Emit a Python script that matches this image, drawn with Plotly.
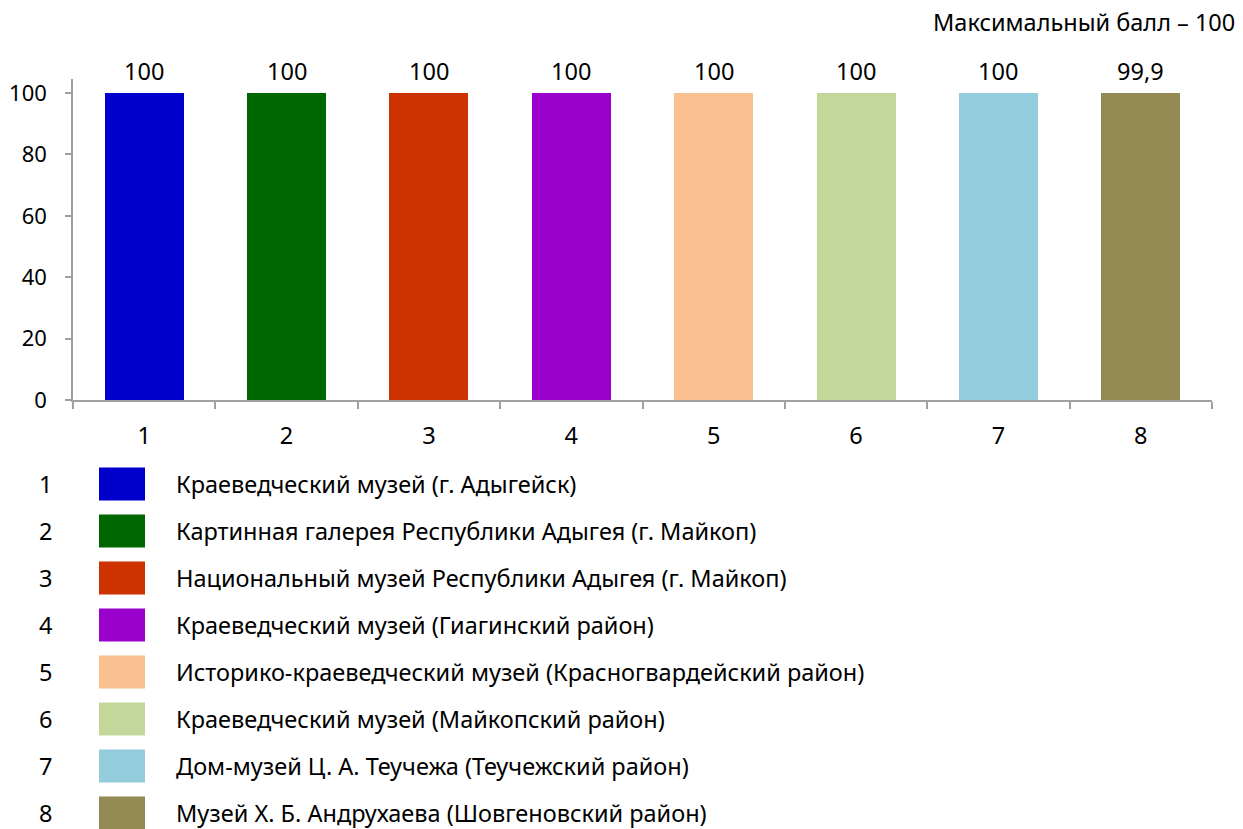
import plotly.graph_objects as go

categories = [1, 2, 3, 4, 5, 6, 7, 8]
values = [100, 100, 100, 100, 100, 100, 100, 99.9]
colors = ["#0000CC", "#006600", "#CC3300", "#9900CC", "#FAC090", "#C4D79B", "#93CDDD", "#948A54"]
names = [
    "Краеведческий музей (г. Адыгейск)",
    "Картинная галерея Республики Адыгея (г. Майкоп)",
    "Национальный музей Республики Адыгея (г. Майкоп)",
    "Краеведческий музей (Гиагинский район)",
    "Историко-краеведческий музей (Красногвардейский район)",
    "Краеведческий музей (Майкопский район)",
    "Дом-музей Ц. А. Теучежа (Теучежский район)",
    "Музей Х. Б. Андрухаева (Шовгеновский район)",
]
y_ticks = [0, 20, 40, 60, 80, 100]
note = "Максимальный балл – 100"

FONT = "Noto Sans"
FS = 23.5
OFF = 8  # browser body margin
W, H = 1243 - OFF, 829 - OFF
L, R, T, B = 73 - OFF, 1212 - OFF, 79 - OFF, 400 - OFF

labels = [f"{v:g}".replace(".", ",") for v in values]

fig = go.Figure(go.Bar(
    x=categories, y=values, marker=dict(color=colors, line=dict(width=0)),
    width=0.555, hoverinfo="x+y",
))
for c, v, t in zip(categories, values, labels):
    fig.add_annotation(x=c, y=v, text=t, showarrow=False, yanchor="middle",
                       yshift=22, font=dict(family=FONT, size=FS, color="#000000"))

fig.update_layout(
    width=W, height=H,
    margin=dict(l=L, r=W - R, t=T, b=H - B, pad=0, autoexpand=False),
    plot_bgcolor="white", paper_bgcolor="white",
    showlegend=False,
    font=dict(family=FONT, size=FS, color="#000000"),
    bargap=0,
)
fig.update_xaxes(
    range=[0.5, 8.5], tickvals=categories, ticktext=[str(c) for c in categories],
    ticks="", showgrid=False, zeroline=False, automargin=False,
    showline=True, linecolor="#A0A0A0", linewidth=1.5,
    tickfont=dict(family=FONT, size=FS),
    minor=dict(tickvals=[c - 0.5 for c in categories] + [categories[-1] + 0.5],
               ticks="outside", ticklen=7, tickcolor="#A0A0A0", tickwidth=1.5),
    ticklabelstandoff=14,
)
fig.update_yaxes(
    range=[0, 104.6], tickvals=y_ticks, ticks="outside", ticklen=6,
    tickcolor="#A0A0A0", tickwidth=1.5, showgrid=False, zeroline=False,
    automargin=False,
    showline=True, linecolor="#A0A0A0", linewidth=1.5,
    tickfont=dict(family=FONT, size=22), ticklabelstandoff=14,
)

plot_h = B - T
def py(p):
    return (B - (p - OFF)) / plot_h
def px(p):
    return ((p - OFF) - L) / (R - L)

fig.add_annotation(text=note, x=px(1237), y=py(22), xref="paper", yref="paper",
                   xanchor="right", yanchor="middle", showarrow=False,
                   font=dict(family=FONT, size=FS))

row0, step = 484, 47
for i, (c, col, nm) in enumerate(zip(categories, colors, names)):
    yc = row0 + i * step
    fig.add_annotation(text=str(c), x=px(45), y=py(yc), xref="paper", yref="paper",
                       xanchor="center", yanchor="middle", showarrow=False,
                       font=dict(family=FONT, size=FS))
    fig.add_shape(type="rect", xref="paper", yref="paper",
                  x0=px(99), x1=px(145), y0=py(yc - 16.5), y1=py(yc + 16.5),
                  fillcolor=col, line=dict(width=0))
    fig.add_annotation(text=nm, x=px(174), y=py(yc), xref="paper", yref="paper",
                       xanchor="left", yanchor="middle", showarrow=False,
                       font=dict(family=FONT, size=FS))

fig.write_html("out.html")
